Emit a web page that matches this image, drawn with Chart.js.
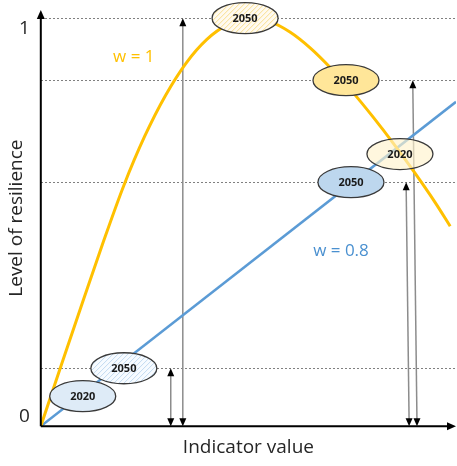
<!doctype html>
<html lang="en">
<head>
<meta charset="utf-8">
<title>Level of resilience</title>
<script src="https://cdn.jsdelivr.net/npm/chart.js@4.4.1/dist/chart.umd.min.js"></script>
<style>
  html, body { margin: 0; padding: 0; background: #fff; }
</style>
</head>
<body>
<canvas id="myChart" width="457" height="466"></canvas>
<script>
// curve w = 1 (yellow)
var yellowX = [0, 0.05, 0.10, 0.15, 0.20, 0.25, 0.30, 0.35, 0.40, 0.45, 0.50, 0.55, 0.60, 0.65, 0.70, 0.75, 0.80, 0.85, 0.90, 0.95, 0.986];
var yellowY = [0, 0.152, 0.302, 0.450, 0.590, 0.710, 0.810, 0.890, 0.948, 0.984, 1.0, 0.992, 0.966, 0.926, 0.876, 0.820, 0.758, 0.692, 0.622, 0.548, 0.490];
// line w = 0.8 (blue)
var blueX = [0, 1];
var blueY = [0, 0.795];
var seriesLabels = ['w = 1', 'w = 0.8'];

// dotted reference levels and the two tick labels
var levels = [0, 0.142, 0.598, 0.848, 1];
var tickValues = [0, 1];
var tickLabels = ['0', '1'];

// year bubbles
var bubbleText = ['2050', '2050', '2020', '2050', '2050', '2020'];
var bubbleX = [0.492, 0.735, 0.865, 0.747, 0.200, 0.101];
var bubbleY = [1.0, 0.848, 0.667, 0.598, 0.142, 0.0735];

// vertical double arrows (x at top, x at bottom, level reached)
var arrowTopX = [0.342, 0.313, 0.880, 0.896];
var arrowBotX = [0.342, 0.313, 0.887, 0.906];
var arrowTop = [1, 0.142, 0.598, 0.848];

// bubble looks: fill colour, hatch stripe colour (null = plain)
var bubbleLook = [
  ['#fffaf0', '#f7d873'],
  ['#ffe699', null],
  ['rgba(255, 242, 204, 0.65)', null],
  ['#bdd7ee', null],
  ['#f7fbff', '#b4d0ec'],
  ['#deebf7', null]
];

function head(c, x, y, dir, w, l) {
  // dir: 1 = pointing up, -1 = pointing down, 2 = pointing right
  c.beginPath();
  if (dir === 2) {
    c.moveTo(x, y); c.lineTo(x - l, y - w / 2); c.lineTo(x - l, y + w / 2);
  } else {
    c.moveTo(x, y); c.lineTo(x - w / 2, y + dir * l); c.lineTo(x + w / 2, y + dir * l);
  }
  c.closePath();
  c.fill();
}

var extras = {
  id: 'extras',
  beforeDatasetsDraw: function(chart) {
    var c = chart.ctx, xs = chart.scales.x, ys = chart.scales.y;
    c.save();
    for (var i = 0; i < arrowTop.length; i++) {
      var x1 = xs.getPixelForValue(arrowTopX[i]), y1 = ys.getPixelForValue(arrowTop[i]);
      var x2 = xs.getPixelForValue(arrowBotX[i]), y2 = ys.getPixelForValue(0);
      c.strokeStyle = '#8c8c8c';
      c.lineWidth = 1.5;
      c.beginPath(); c.moveTo(x1, y1 + 6); c.lineTo(x2, y2 - 6); c.stroke();
      c.fillStyle = '#000';
      head(c, x1, y1, 1, 7, 8);
      head(c, x2, y2, -1, 7, 8);
    }
    c.restore();
  },
  afterDatasetsDraw: function(chart) {
    var c = chart.ctx, xs = chart.scales.x, ys = chart.scales.y, a = chart.chartArea;
    c.save();
    // axes with arrowheads
    c.strokeStyle = '#000';
    c.fillStyle = '#000';
    c.lineWidth = 2;
    c.beginPath();
    c.moveTo(a.left, a.bottom); c.lineTo(a.left, a.top + 6);
    c.moveTo(a.left, a.bottom); c.lineTo(a.right - 6, a.bottom);
    c.stroke();
    head(c, a.left, a.top, 1, 8, 9);
    head(c, a.right, a.bottom, 2, 8, 9);

    // tick labels 0 and 1
    c.font = '19px "Open Sans"';
    c.fillStyle = '#262626';
    c.textAlign = 'center';
    c.textBaseline = 'middle';
    for (var t = 0; t < tickValues.length; t++) {
      var off = tickValues[t] === 0 ? -10 : 10;
      c.fillText(tickLabels[t], 24.5, ys.getPixelForValue(tickValues[t]) + off);
    }

    // series labels
    c.font = '17px "Open Sans"';
    c.fillStyle = '#ffc000';
    c.fillText(seriesLabels[0], xs.getPixelForValue(0.224), ys.getPixelForValue(0.904));
    c.fillStyle = '#4a90d0';
    c.fillText(seriesLabels[1], xs.getPixelForValue(0.723), ys.getPixelForValue(0.429));

    // year bubbles
    for (var b = 0; b < bubbleText.length; b++) {
      var bx = xs.getPixelForValue(bubbleX[b]), by = ys.getPixelForValue(bubbleY[b]);
      c.beginPath();
      c.ellipse(bx, by, 33, 15.5, 0, 0, Math.PI * 2);
      c.fillStyle = bubbleLook[b][0];
      c.fill();
      if (bubbleLook[b][1]) {
        c.save();
        c.clip();
        c.strokeStyle = bubbleLook[b][1];
        c.lineWidth = 0.8;
        c.beginPath();
        for (var k = -40; k < 80; k += 5) {
          c.moveTo(bx + k - 40, by + 20);
          c.lineTo(bx + k, by - 20);
        }
        c.stroke();
        c.restore();
        c.beginPath();
        c.ellipse(bx, by, 33, 15.5, 0, 0, Math.PI * 2);
      }
      c.lineWidth = 1.3;
      c.strokeStyle = '#3a3a3a';
      c.stroke();
      c.fillStyle = '#1a1a1a';
      c.font = 'bold 11px "Open Sans"';
      c.fillText(bubbleText[b], bx, by + 0.5);
    }
    c.restore();
  }
};

var ctx = document.getElementById('myChart').getContext('2d');
var myChart = new Chart(ctx, {
  type: 'scatter',
  data: {
    datasets: [{
      label: seriesLabels[0],
      data: yellowX.map(function(x, i) { return {x: x, y: yellowY[i]}; }),
      showLine: true,
      borderColor: '#ffc000',
      borderWidth: 3,
      pointRadius: 0,
      cubicInterpolationMode: 'monotone'
    }, {
      label: seriesLabels[1],
      data: blueX.map(function(x, i) { return {x: x, y: blueY[i]}; }),
      showLine: true,
      borderColor: '#5b9bd5',
      borderWidth: 2.5,
      pointRadius: 0
    }]
  },
  options: {
    responsive: false,
    animation: false,
    devicePixelRatio: 1,
    layout: { padding: { top: 10, right: 1, left: 0, bottom: 0 } },
    plugins: { legend: { display: false }, tooltip: { enabled: false } },
    scales: {
      x: {
        type: 'linear', min: 0, max: 1,
        ticks: { display: false },
        grid: { display: false, drawTicks: false },
        border: { display: false },
        title: { display: true, text: 'Indicator value', color: '#262626',
                 font: { family: 'Open Sans', size: 19 }, padding: { top: 10, bottom: 7 } }
      },
      y: {
        type: 'linear', min: 0, max: 1.02,
        afterBuildTicks: function(s) { s.ticks = levels.map(function(v) { return {value: v}; }); },
        ticks: { display: false },
        grid: {
          drawTicks: false,
          lineWidth: 1,
          color: function(c) { return c.tick && c.tick.value === 0 ? 'rgba(0,0,0,0)' : '#808080'; }
        },
        border: { display: false, dash: [2, 2] },
        title: { display: true, text: 'Level of resilience', color: '#262626',
                 font: { family: 'Open Sans', size: 19 }, padding: { top: 5, bottom: 13 } }
      }
    }
  },
  plugins: [extras]
});
</script>
</body>
</html>
